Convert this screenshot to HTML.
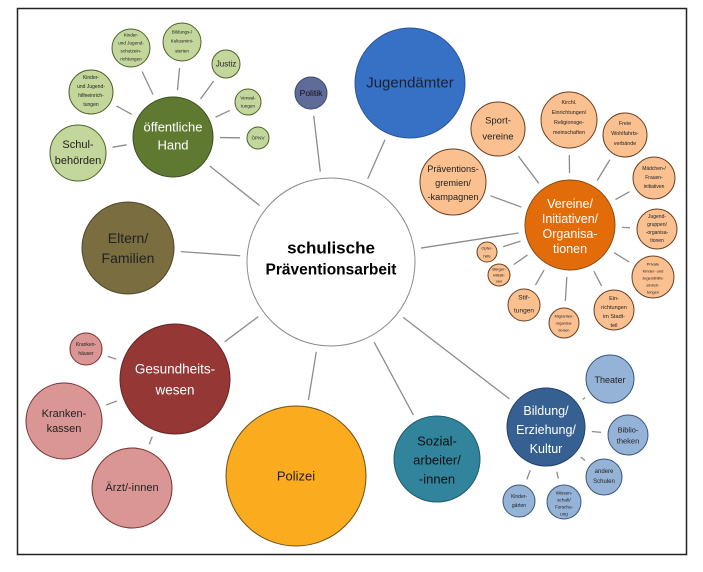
<!DOCTYPE html>
<html><head><meta charset="utf-8"><style>
html,body{margin:0;padding:0;background:#fff;width:703px;height:572px;overflow:hidden}
svg{display:block}
text{font-family:"Liberation Sans Narrow","Liberation Sans",sans-serif;text-anchor:middle;dominant-baseline:central}
</style></head><body>
<svg id="s" width="703" height="572" viewBox="0 0 703 572">
<rect x="17.5" y="8.5" width="669" height="546" fill="#fff" stroke="#222" stroke-width="1.5"/>
<g id="lines" stroke="#8c8c8c" stroke-width="1.3"></g>
<g stroke-width="1">
<circle cx="331" cy="262" r="84" fill="#fff" stroke="#8c8c8c"/>
<text x="331" y="248" font-size="17" font-weight="bold">schulische</text>
<text x="331" y="270" font-size="15.5" font-weight="bold">Präventionsarbeit</text>

<circle cx="410" cy="83" r="55" fill="#3671c6" stroke="#2a5599"/>
<text x="410" y="83" font-size="15" fill="#1a2233">Jugendämter</text>
<circle cx="311" cy="93" r="16" fill="#5f6b98" stroke="#3f4870"/>
<text x="311" y="93" font-size="8.5" fill="#111">Politik</text>

<circle cx="173" cy="137" r="40" fill="#5f7a30" stroke="#3d4f1f"/>
<text x="173" y="127" font-size="13" fill="#fff">öffentliche</text>
<text x="173" y="145" font-size="13" fill="#fff">Hand</text>
<g fill="#c3d69b" stroke="#4f6228">
<circle cx="78" cy="153" r="28"/><circle cx="91" cy="92" r="22"/><circle cx="131" cy="48" r="19"/>
<circle cx="182" cy="42" r="19"/><circle cx="226" cy="64" r="14"/><circle cx="248" cy="102" r="13"/><circle cx="258" cy="138" r="11"/>
</g>
<g fill="#222">
<text x="78" y="145" font-size="11">Schul-</text><text x="78" y="161" font-size="11">behörden</text>
<text x="91" y="78" font-size="5">Kinder-</text><text x="91" y="87" font-size="5">und Jugend-</text><text x="91" y="96" font-size="5">hilfeeinrich-</text><text x="91" y="105" font-size="5">tungen</text>
<text x="131" y="35" font-size="4.6">Kinder-</text><text x="131" y="43" font-size="4.6">und Jugend-</text><text x="131" y="51" font-size="4.6">schutzein-</text><text x="131" y="59" font-size="4.6">richtungen</text>
<text x="182" y="32" font-size="4.6">Bildungs-/</text><text x="182" y="41" font-size="4.6">Kultusmini-</text><text x="182" y="51" font-size="4.6">sterien</text>
<text x="226" y="64" font-size="8">Justiz</text>
<text x="248" y="98" font-size="4.6">Verwal-</text><text x="248" y="106" font-size="4.6">tungen</text>
<text x="258" y="138" font-size="4.6">ÖPNV</text>
</g>

<circle cx="128" cy="248" r="46" fill="#7a6d3f" stroke="#4f4728"/>
<text x="128" y="238" font-size="14" fill="#222">Eltern/</text><text x="128" y="258" font-size="14" fill="#222">Familien</text>

<circle cx="175" cy="379" r="55" fill="#953735" stroke="#632523"/>
<text x="175" y="369" font-size="13.5" fill="#fff">Gesundheits-</text><text x="175" y="390" font-size="13.5" fill="#fff">wesen</text>
<g fill="#d99694" stroke="#7a3030">
<circle cx="86" cy="349" r="16"/><circle cx="64" cy="421" r="38"/><circle cx="132" cy="488" r="40"/>
</g>
<g fill="#222">
<text x="86" y="345" font-size="5">Kranken-</text><text x="86" y="354" font-size="5">häuser</text>
<text x="64" y="414" font-size="11">Kranken-</text><text x="64" y="429" font-size="11">kassen</text>
<text x="132" y="488" font-size="11">Ärzt/-innen</text>
</g>

<circle cx="296" cy="476" r="70" fill="#fbab1e" stroke="#6a5020"/>
<text x="296" y="476" font-size="13" fill="#222">Polizei</text>

<circle cx="437" cy="459" r="43" fill="#31849b" stroke="#1f5a6a"/>
<text x="437" y="441" font-size="13" fill="#111">Sozial-</text><text x="437" y="460" font-size="13" fill="#111">arbeiter/</text><text x="437" y="479" font-size="13" fill="#111">-innen</text>

<circle cx="546" cy="427" r="39" fill="#366092" stroke="#24406a"/>
<text x="546" y="411" font-size="12.5" fill="#fff">Bildung/</text><text x="546" y="430" font-size="12.5" fill="#fff">Erziehung/</text><text x="546" y="449" font-size="12.5" fill="#fff">Kultur</text>
<g fill="#95b3d7" stroke="#3a5580">
<circle cx="610" cy="379" r="24"/><circle cx="628" cy="435" r="20"/><circle cx="604" cy="477" r="18"/><circle cx="564" cy="502" r="17"/><circle cx="519" cy="501" r="16"/>
</g>
<g fill="#222">
<text x="610" y="380" font-size="9">Theater</text>
<text x="628" y="430" font-size="7.5">Biblio-</text><text x="628" y="441" font-size="7.5">theken</text>
<text x="604" y="472" font-size="6">andere</text><text x="604" y="482" font-size="6">Schulen</text>
<text x="564" y="493" font-size="4.6">Wissen-</text><text x="564" y="500" font-size="4.6">schaft/</text><text x="564" y="507" font-size="4.6">Forschu-</text><text x="564" y="514" font-size="4.6">ung</text>
<text x="519" y="497" font-size="5">Kinder-</text><text x="519" y="506" font-size="5">gärten</text>
</g>

<circle cx="570" cy="225" r="45" fill="#e36c0a" stroke="#8a4a15"/>
<text x="570" y="204" font-size="12.5" fill="#fff">Vereine/</text><text x="570" y="219" font-size="12.5" fill="#fff">Initiativen/</text><text x="570" y="234" font-size="12.5" fill="#fff">Organisa-</text><text x="570" y="249" font-size="12.5" fill="#fff">tionen</text>
<g fill="#fac090" stroke="#6a4020">
<circle cx="453" cy="182" r="33"/><circle cx="498" cy="129" r="27"/><circle cx="569" cy="120" r="28"/><circle cx="625" cy="135" r="22"/>
<circle cx="654" cy="178" r="21"/><circle cx="657" cy="229" r="20"/><circle cx="653" cy="277" r="21"/><circle cx="614" cy="310" r="20"/>
<circle cx="564" cy="323" r="15"/><circle cx="524" cy="305" r="16"/><circle cx="499" cy="275" r="11"/><circle cx="487" cy="252" r="10"/>
</g>
<g fill="#222">
<text x="453" y="169" font-size="9.2">Präventions-</text><text x="453" y="183" font-size="9.2">gremien/</text><text x="453" y="197" font-size="9.2">-kampagnen</text>
<text x="498" y="121" font-size="9.5">Sport-</text><text x="498" y="137" font-size="9.5">vereine</text>
<text x="569" y="103" font-size="5.4">Kirchl.</text><text x="569" y="113" font-size="5.4">Einrichtungen/</text><text x="569" y="123" font-size="5.4">Religionsge-</text><text x="569" y="133" font-size="5.4">meinschaften</text>
<text x="625" y="124" font-size="5.4">Freie</text><text x="625" y="134" font-size="5.4">Wohlfahrts-</text><text x="625" y="144" font-size="5.4">verbände</text>
<text x="654" y="169" font-size="5">Mädchen-/</text><text x="654" y="178" font-size="5">Frauen-</text><text x="654" y="187" font-size="5">initiativen</text>
<text x="657" y="217" font-size="5">Jugend-</text><text x="657" y="225" font-size="5">gruppen/</text><text x="657" y="233" font-size="5">-organisa-</text><text x="657" y="241" font-size="5">tionen</text>
<text x="653" y="264" font-size="4">Private</text><text x="653" y="271" font-size="4">Kinder- und</text><text x="653" y="278" font-size="4">Jugendhilfe-</text><text x="653" y="285" font-size="4">einrich-</text><text x="653" y="292" font-size="4">tungen</text>
<text x="614" y="299" font-size="5.5">Ein-</text><text x="614" y="308" font-size="5.5">richtungen</text><text x="614" y="317" font-size="5.5">im Stadt-</text><text x="614" y="326" font-size="5.5">teil</text>
<text x="564" y="316" font-size="4">Migranten-</text><text x="564" y="323" font-size="4">organisa-</text><text x="564" y="330" font-size="4">tionen</text>
<text x="524" y="298" font-size="6.5">Stif-</text><text x="524" y="311" font-size="6.5">tungen</text>
<text x="499" y="269" font-size="4">Bürger-</text><text x="499" y="275" font-size="4">initiati-</text><text x="499" y="281" font-size="4">ven</text>
<text x="487" y="248" font-size="4">Opfer-</text><text x="487" y="256" font-size="4">hilfe</text>
</g>
</g>
</svg>
<script>
(function(){
var L=[
[331,262,84,410,83,55],[331,262,84,311,93,16],[331,262,84,173,137,40],[331,262,84,128,248,46],
[331,262,84,175,379,55],[331,262,84,296,476,70],[331,262,84,437,459,43],[331,262,84,546,427,39],[331,262,84,570,225,45],
[173,137,40,78,153,28],[173,137,40,91,92,22],[173,137,40,131,48,19],[173,137,40,182,42,19],[173,137,40,226,64,14],[173,137,40,248,102,13],[173,137,40,258,138,11],
[175,379,55,86,349,16],[175,379,55,64,421,38],[175,379,55,132,488,40],
[546,427,39,610,379,24],[546,427,39,628,435,20],[546,427,39,604,477,18],[546,427,39,564,502,17],[546,427,39,519,501,16],
[570,225,45,453,182,33],[570,225,45,498,129,27],[570,225,45,569,120,28],[570,225,45,625,135,22],[570,225,45,654,178,21],[570,225,45,657,229,20],[570,225,45,653,277,21],[570,225,45,614,310,20],[570,225,45,564,323,15],[570,225,45,524,305,16],[570,225,45,499,275,11],[570,225,45,487,252,10]
];
var g=document.getElementById('lines'),ns='http://www.w3.org/2000/svg';
L.forEach(function(a){var dx=a[3]-a[0],dy=a[4]-a[1],d=Math.sqrt(dx*dx+dy*dy);var ux=dx/d,uy=dy/d;
var s=a[2]+7,e=d-a[5]-7;if(e<=s){s=a[2]+1;e=d-a[5]-1;}
var l=document.createElementNS(ns,'line');l.setAttribute('x1',a[0]+ux*s);l.setAttribute('y1',a[1]+uy*s);l.setAttribute('x2',a[0]+ux*e);l.setAttribute('y2',a[1]+uy*e);g.appendChild(l);});
})();
</script>
</body></html>
